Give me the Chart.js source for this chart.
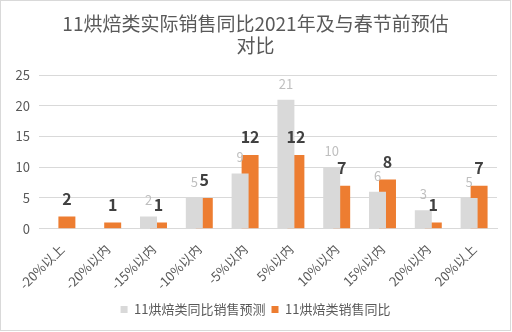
<!DOCTYPE html>
<html>
<head>
<meta charset="utf-8">
<script src="https://cdn.jsdelivr.net/npm/chart.js@4"></script>
<style>
  body { margin: 0; background: #fff; }
  #box { position: absolute; left: 0; top: 0; width: 509px; height: 329px; border: 1px solid #d9d9d9; background: #fff; }
</style>
</head>
<body>
<div id="box"><canvas id="grafico"></canvas></div>
<script>
const categorias = ["-20%以上", "-20%以内", "-15%以内", "-10%以内", "-5%以内", "5%以内", "10%以内", "15%以内", "20%以内", "20%以上"]
const previsao = [null, null, 2, 5, 9, 21, 10, 6, 3, 5]
const vendas = [2, 1, 1, 5, 12, 12, 7, 8, 1, 7]
const ticksY = [0, 5, 10, 15, 20, 25]

const fonte = "'Noto Sans CJK SC', 'Noto Sans', sans-serif"

// rótulos de valor em cima das barras
const rotulos = {
    id: 'rotulos',
    afterDatasetsDraw(chart) {
        const ctx = chart.ctx
        chart.data.datasets.forEach((ds, i) => {
            chart.getDatasetMeta(i).data.forEach((bar, j) => {
                const v = ds.data[j]
                if (v === null) return
                ctx.save()
                ctx.textAlign = 'center'
                ctx.textBaseline = 'middle'
                if (i == 0) {
                    ctx.font = `13px ${fonte}`
                    ctx.fillStyle = '#bfbfbf'
                    ctx.fillText(v, bar.x, bar.y - 16)
                } else {
                    ctx.font = `bold 16px ${fonte}`
                    ctx.fillStyle = '#404040'
                    ctx.fillText(v, bar.x, bar.y - 18)
                }
                ctx.restore()
            })
        })
    }
}

new Chart(document.getElementById('grafico'), {
    type: 'bar',
    data: {
        labels: categorias,
        datasets: [
            {
                label: '11烘焙类同比销售预测',
                data: previsao,
                backgroundColor: '#d9d9d9',
                categoryPercentage: 0.436,
                barPercentage: 1.7
            },
            {
                label: '11烘焙类销售同比',
                data: vendas,
                backgroundColor: '#ed7d31',
                categoryPercentage: 0.436,
                barPercentage: 1.7
            }
        ]
    },
    options: {
        responsive: true,
        maintainAspectRatio: false,
        animation: false,
        layout: { padding: { left: 13, right: 13, top: 4, bottom: 4 } },
        plugins: {
            title: {
                display: true,
                text: ['11烘焙类实际销售同比2021年及与春节前预估', '对比'],
                color: '#595959',
                font: { family: fonte, size: 19, weight: 'normal', lineHeight: 1.16 },
                padding: { top: 8, bottom: 18 }
            },
            legend: {
                position: 'bottom',
                labels: {
                    boxWidth: 7,
                    boxHeight: 7,
                    color: '#595959',
                    font: { family: fonte, size: 13 },
                    padding: 6
                }
            },
            tooltip: { enabled: false }
        },
        scales: {
            x: {
                grid: { display: false },
                border: { color: '#d9d9d9' },
                afterFit: axis => { axis.paddingLeft = 0; axis.paddingRight = 0 },
                ticks: {
                    color: '#595959',
                    font: { family: fonte, size: 13 },
                    maxRotation: 45,
                    minRotation: 45,
                    padding: 4.5
                }
            },
            y: {
                min: 0,
                max: 25,
                afterBuildTicks: axis => { axis.ticks = ticksY.map(v => ({ value: v })) },
                afterFit: axis => { axis.width = 25 },
                grid: { color: '#d9d9d9', drawTicks: false },
                border: { display: false },
                ticks: {
                    color: '#595959',
                    font: { family: fonte, size: 13 },
                    padding: 9
                }
            }
        }
    },
    plugins: [rotulos]
})
</script>
</body>
</html>
